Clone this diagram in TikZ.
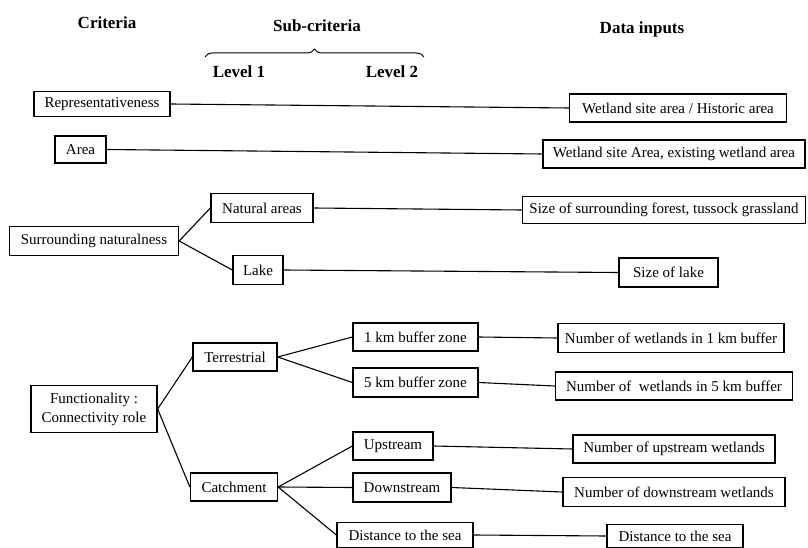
\documentclass[tikz,border=0pt]{standalone}
\usepackage{fontspec}
\setmainfont{Liberation Serif}
\usetikzlibrary{decorations.pathreplacing}
\begin{document}
\begin{tikzpicture}[x=1pt,y=-1pt,
  box/.style={draw, line width=1.3pt, inner sep=0pt, align=center,
    font=\fontsize{15}{19}\selectfont},
  hdr/.style={inner sep=0pt, font=\bfseries\fontsize{17}{20}\selectfont},
  conn/.style={line width=1.1pt}]
\useasboundingbox[fill=white] (0,0) rectangle (808,548);

% headers
\node[hdr] (hcrit) at (107,23) {Criteria};
\node[hdr] (hsub) at (317,26) {Sub-criteria};
\node[hdr] (hdata) at (642,29) {Data inputs};
\node[hdr] (hl1) at (239,72) {Level 1};
\node[hdr] (hl2) at (392,72) {Level 2};
\coordinate (brl) at (205,57);
\coordinate (brr) at (424,57);
\draw[line width=1pt, decorate, decoration={brace, amplitude=8pt}] (brl) -- (brr);

% criteria
\node[box, minimum width=136pt, minimum height=25pt] (rep) at (102,104) {Representativeness};
\node[box, minimum width=51pt, minimum height=27pt] (area) at (80.5,149.5) {Area};
\node[box, minimum width=169pt, minimum height=29pt] (surr) at (94,241) {Surrounding naturalness};
\node[box, minimum width=126pt, minimum height=47pt] (func) at (94,409) {Functionality :\\Connectivity role};

% level 1
\node[box, minimum width=102pt, minimum height=29pt] (nat) at (262,208) {Natural areas};
\node[box, minimum width=50pt, minimum height=29pt] (lake) at (258,270) {Lake};
\node[box, minimum width=84pt, minimum height=28pt] (terr) at (235,357) {Terrestrial};
\node[box, minimum width=87pt, minimum height=28pt] (catch) at (234,487) {Catchment};

% level 2
\node[box, minimum width=125pt, minimum height=28pt] (b1) at (415.5,337) {1 km buffer zone};
\node[box, minimum width=125pt, minimum height=29pt] (b5) at (415.5,382.5) {5 km buffer zone};
\node[box, minimum width=80pt, minimum height=28pt] (up) at (393,446) {Upstream};
\node[box, minimum width=98pt, minimum height=29pt] (down) at (402,487.5) {Downstream};
\node[box, minimum width=136pt, minimum height=25pt] (dist) at (405,535) {Distance to the sea};

% data inputs
\node[box, minimum width=217pt, minimum height=28pt] (wsa) at (678,108) {Wetland site area / Historic area};
\node[box, minimum width=262pt, minimum height=28pt] (wsaa) at (674,154) {Wetland site Area, existing wetland area};
\node[box, minimum width=283pt, minimum height=27pt] (forest) at (664,210) {Size of surrounding forest, tussock grassland};
\node[box, minimum width=99pt, minimum height=29pt] (slake) at (668.5,272.5) {Size of lake};
\node[box, minimum width=226pt, minimum height=29pt] (n1) at (671,338) {Number of wetlands in 1 km buffer};
\node[box, minimum width=237pt, minimum height=28pt] (n5) at (674,386) {Number of \ wetlands in 5 km buffer};
\node[box, minimum width=202pt, minimum height=28pt] (nup) at (674,449) {Number of upstream wetlands};
\node[box, minimum width=222pt, minimum height=29pt] (ndown) at (674,492) {Number of downstream wetlands};
\node[box, minimum width=136pt, minimum height=23pt] (ndist) at (675,536) {Distance to the sea};

% connectors
\draw[conn] (rep.east) -- (wsa.west);
\draw[conn] (area.east) -- (wsaa.west);
\draw[conn] (surr.east) -- (nat.west);
\draw[conn] (surr.east) -- (lake.west);
\draw[conn] (nat.east) -- (forest.west);
\draw[conn] (lake.east) -- (slake.west);
\draw[conn] (func.east) -- (terr.west);
\draw[conn] (func.east) -- (catch.west);
\draw[conn] (terr.east) -- (b1.west);
\draw[conn] (terr.east) -- (b5.west);
\draw[conn] (catch.east) -- (up.west);
\draw[conn] (catch.east) -- (down.west);
\draw[conn] (catch.east) -- (dist.west);
\draw[conn] (b1.east) -- (n1.west);
\draw[conn] (b5.east) -- (n5.west);
\draw[conn] (up.east) -- (nup.west);
\draw[conn] (down.east) -- (ndown.west);
\draw[conn] (dist.east) -- (ndist.west);
\end{tikzpicture}
\end{document}
